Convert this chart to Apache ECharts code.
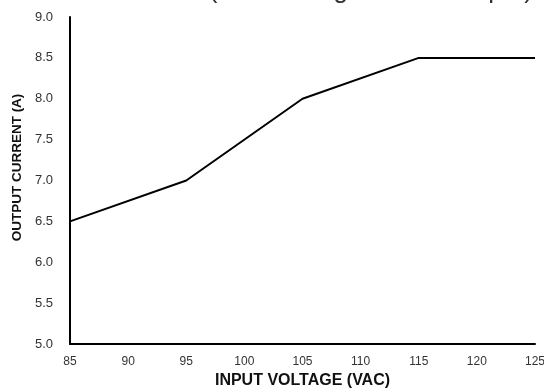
<!DOCTYPE html>
<html>
<head>
<meta charset="utf-8">
<script src="https://cdn.jsdelivr.net/npm/echarts@6/dist/echarts.min.js"></script>
<style>
  html, body { margin: 0; padding: 0; background: #fff; }
  #main { width: 544px; height: 390px; }
</style>
</head>
<body>
<div id="main"></div>
<script>
// input voltage (VAC) and output current (A)
const voltages = [85, 95, 105, 115, 125];
const currents = [6.5, 7.0, 8.0, 8.5, 8.5];
const titleText = 'Continuous Load (Full Wattage Rated Output)';

const chart = echarts.init(document.getElementById('main'));
const option = {
  backgroundColor: '#ffffff',
  animation: false,
  title: {
    text: titleText,
    left: 0,
    top: -27.5,
    textStyle: { fontFamily: 'Liberation Sans', fontSize: 26, fontWeight: 'normal', color: '#333' }
  },
  grid: { left: 70, right: 9, top: 17, bottom: 46, outerBoundsMode: 'none' },
  xAxis: {
    type: 'value',
    min: 85,
    max: 125,
    interval: 5,
    name: 'INPUT VOLTAGE (VAC)',
    nameLocation: 'middle',
    nameGap: 29,
    nameTextStyle: { fontFamily: 'Liberation Sans', fontSize: 16, fontWeight: 'bold', color: '#111' },
    axisLine: { show: true, lineStyle: { color: '#000', width: 2 } },
    axisTick: { show: false },
    splitLine: { show: false },
    axisLabel: { fontFamily: 'Liberation Sans', fontSize: 12, color: '#333', margin: 12 }
  },
  yAxis: {
    type: 'value',
    min: 5,
    max: 9,
    interval: 0.5,
    name: 'OUTPUT CURRENT (A)',
    nameLocation: 'middle',
    nameGap: 46,
    nameTextStyle: {
      fontFamily: 'Liberation Sans', fontSize: 13.5, fontWeight: 'bold', color: '#111',
      padding: [0, 0, 0, 26]
    },
    axisLine: { show: true, lineStyle: { color: '#000', width: 2 } },
    axisTick: { show: false },
    splitLine: { show: false },
    axisLabel: {
      fontFamily: 'Liberation Sans', fontSize: 13, color: '#333', margin: 17,
      formatter: v => v.toFixed(1)
    }
  },
  series: [{
    type: 'line',
    data: voltages.map((v, i) => [v, currents[i]]),
    symbol: 'none',
    lineStyle: { color: '#000', width: 2 }
  }]
};
chart.setOption(option);
</script>
</body>
</html>
